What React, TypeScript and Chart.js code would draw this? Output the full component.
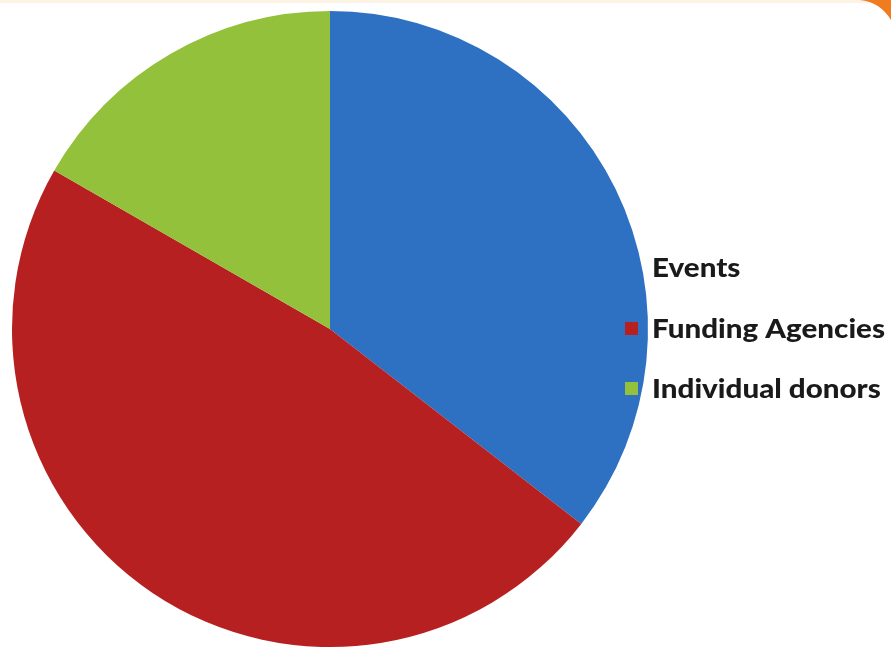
import React, { useEffect, useRef } from "react";
import { Chart, registerables } from "chart.js";

Chart.register(...registerables);

const categories = ["Events", "Funding Agencies", "Individual donors"];
const shares = [35.5, 47.8, 16.7];
const sliceColors = ["#2e71c2", "#b62020", "#94c13c"];
const legendRows = [268, 329, 389];

const backgroundPlugin = {
  id: "bg",
  beforeDraw(chart: any) {
    const ctx = chart.ctx;
    ctx.save();
    ctx.fillStyle = "#ffffff";
    ctx.fillRect(0, 0, chart.width, chart.height);
    ctx.fillStyle = "#fdf3e4";
    ctx.fillRect(0, 0, chart.width, 3);
    ctx.fillStyle = "#f07c1e";
    ctx.beginPath();
    ctx.moveTo(860, 0);
    ctx.lineTo(chart.width, 0);
    ctx.lineTo(chart.width, 20);
    ctx.quadraticCurveTo(880, 2, 860, 0);
    ctx.closePath();
    ctx.fill();
    ctx.restore();
  },
};

const legendPlugin = {
  id: "customLegend",
  afterDraw(chart: any) {
    const ctx = chart.ctx;
    const labels = chart.data.labels as string[];
    const colors = chart.data.datasets[0].backgroundColor as string[];
    ctx.save();
    ctx.font = "900 26px Lato";
    ctx.textBaseline = "middle";
    ctx.textAlign = "left";
    const ref = ctx.measureText("Funding Agencies").width;
    const sx = 233 / ref;
    labels.forEach((lab, i) => {
      const y = legendRows[i];
      ctx.fillStyle = colors[i];
      ctx.fillRect(625, y - 7, 13, 13);
      ctx.fillStyle = "#1a1a1a";
      ctx.save();
      ctx.translate(652, y + 1);
      ctx.scale(sx, 1);
      ctx.fillText(lab, 0, 0);
      ctx.restore();
    });
    ctx.restore();
  },
};

export default function App() {
  const ref = useRef<HTMLCanvasElement | null>(null);
  useEffect(() => {
    if (!ref.current) return;
    const chart = new Chart(ref.current, {
      type: "pie",
      data: {
        labels: categories,
        datasets: [
          {
            data: shares,
            backgroundColor: sliceColors,
            borderWidth: 0,
          },
        ],
      },
      options: {
        responsive: false,
        animation: false,
        layout: { padding: { left: 12, right: 243, top: 11, bottom: 0 } },
        plugins: {
          legend: { display: false },
          tooltip: { enabled: false },
        },
      },
      plugins: [backgroundPlugin, legendPlugin],
    });
    return () => chart.destroy();
  }, []);
  return (
    <div style={{ position: "fixed", left: 0, top: 0, width: 891, height: 647 }}>
      <canvas ref={ref} width={891} height={647} style={{ display: "block" }} />
    </div>
  );
}
